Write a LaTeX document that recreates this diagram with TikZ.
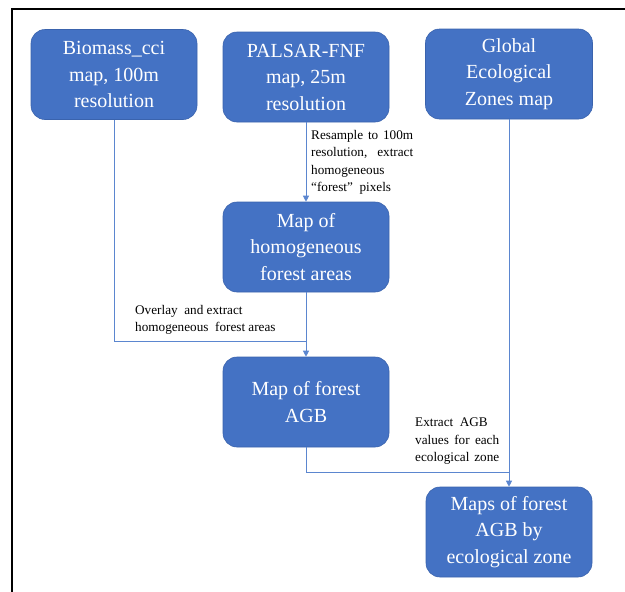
\documentclass[tikz,border=0pt]{standalone}
\usepackage{fontspec}
\setmainfont{Liberation Serif}
\usetikzlibrary{arrows.meta}
\definecolor{boxblue}{HTML}{4472C4}
\definecolor{boxedge}{HTML}{3A63AD}
\definecolor{linkblue}{HTML}{5B86CF}
\tikzset{
  stepbox/.style={draw=boxedge, line width=0.6pt, fill=boxblue, rounded corners=14pt,
    minimum width=166pt, minimum height=90pt, inner sep=0pt, text=white, align=center,
    font=\fontsize{20}{26.5}\selectfont},
  link/.style={draw=linkblue, line width=0.9pt},
  linkarrow/.style={link, -{Triangle[length=6pt,width=6pt]}},
  note/.style={anchor=north west, inner sep=0pt, align=left, font=\fontsize{13.2}{17.5}\selectfont}
}
\begin{document}
\begin{tikzpicture}[x=1pt,y=-1pt]
\useasboundingbox (0,0) rectangle (625,592);
\draw[line width=2.4pt] (12,592) -- (12,9) -- (625,9);

\node[stepbox] (b1) at (114,74.5) {Biomass\_cci\\map, 100m\\resolution};
\node[stepbox] (b2) at (306,77) {PALSAR-FNF\\map, 25m\\resolution};
\node[stepbox, minimum width=167pt] (b3) at (509,74) {Global\\Ecological\\Zones map};
\node[stepbox] (b4) at (306,247) {Map of\\homogeneous\\forest areas};
\node[stepbox] (b5) at (306,402) {Map of forest\\AGB};
\node[stepbox] (b6) at (509,532) {Maps of forest\\AGB by\\ecological zone};

\coordinate (j1) at (306,341);
\coordinate (j2) at (509,472);

\draw[linkarrow] (b2.south) -- (b4.north);
\draw[linkarrow] (b4.south) -- (b5.north);
\draw[link] (b1.south) |- (j1);
\draw[linkarrow] (b3.south) -- (b6.north);
\draw[link] (b5.south) |- (j2);

\node[note] (n1) at (311,130) {\makebox[102pt][s]{Resample to 100m}\\\makebox[102pt][s]{resolution, extract}\\homogeneous\\``forest''\ \ pixels};
\node[note] (n2) at (135,305) {Overlay\ \ and extract\\homogeneous\ \ forest areas};
\node[note] (n3) at (415,418) {Extract\ \ AGB\\\makebox[84pt][s]{values for each}\\\makebox[84pt][s]{ecological zone}};
\end{tikzpicture}
\end{document}
